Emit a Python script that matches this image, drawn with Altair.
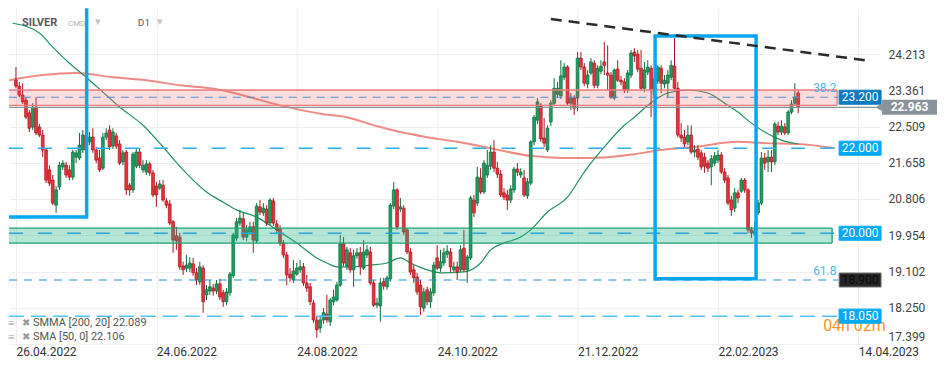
import altair as alt
import pandas as pd

# ---------------- data (bar index 0 = 26.04.2022) ----------------
opens = [23.60, 23.46, 23.25, 23.13, 22.83, 22.50, 22.97, 22.50, 22.31, 21.96,
         21.49, 21.25, 20.66, 21.09, 21.56, 21.60, 21.49, 21.32, 21.79, 21.77,
         21.96, 22.31, 22.15, 22.26, 21.96, 21.77, 21.53, 22.26, 22.43, 22.05,
         22.29, 22.10, 21.68, 21.91, 21.13, 21.02, 21.58, 21.91, 21.49, 21.44,
         21.63, 21.42, 21.11, 21.06, 21.13, 20.76, 20.69, 20.27, 19.94, 19.91,
         19.23, 19.18, 19.18, 19.28, 19.07, 18.86, 19.18, 18.55, 18.64, 18.71,
         18.64, 18.81, 18.60, 18.39, 18.60, 19.00, 19.89, 20.24, 20.34, 19.91,
         20.03, 20.15, 19.82, 20.62, 20.48, 20.57, 20.24, 20.76, 20.22, 20.10,
         19.77, 19.49, 19.04, 18.90, 19.04, 19.14, 19.21, 18.83, 18.74, 18.36,
         17.96, 17.77, 17.96, 18.10, 17.92, 18.39, 18.43, 18.78, 19.75, 19.23,
         19.54, 19.14, 19.47, 19.54, 19.18, 19.49, 19.56, 18.83, 18.31, 18.29,
         18.86, 18.74, 18.93, 20.64, 21.02, 20.57, 20.59, 20.08, 19.56, 19.14,
         18.97, 18.78, 18.24, 18.67, 18.39, 18.60, 19.42, 19.18, 19.30, 19.51,
         19.56, 19.14, 19.21, 19.14, 19.65, 19.14, 19.42, 20.78, 20.71, 21.30,
         20.97, 21.37, 21.58, 21.91, 21.53, 21.39, 20.95, 20.90, 20.78, 21.02,
         21.51, 21.37, 21.30, 20.88, 21.18, 22.15, 22.66, 23.01, 22.24, 21.96,
         22.62, 23.06, 23.27, 23.23, 23.67, 23.91, 23.06, 23.18, 23.18, 24.12,
         23.91, 23.51, 23.77, 24.00, 23.48, 23.81, 24.03, 23.77, 23.72, 23.18,
         23.86, 23.60, 23.56, 23.37, 23.72, 24.26, 24.21, 23.88, 23.41, 23.79,
         23.88, 23.25, 23.58, 23.88, 23.51, 23.53, 23.67, 23.93, 23.41, 22.31,
         22.26, 22.15, 22.31, 21.91, 21.98, 21.89, 21.79, 21.65, 21.56, 21.65,
         21.72, 21.84, 21.44, 21.30, 20.78, 20.59, 20.95, 20.99, 21.25, 21.02,
         20.08, 19.98, 20.48, 20.71, 21.77, 21.68, 21.79, 21.68, 22.52, 22.38,
         22.50, 22.36, 22.85, 23.06, 23.30]
closes = [23.46, 23.25, 23.09, 22.73, 22.47, 22.97, 22.36, 22.31, 21.96, 21.25,
          21.18, 20.71, 21.02, 21.60, 21.65, 21.37, 21.32, 21.91, 21.89, 22.07,
          22.31, 21.96, 22.26, 21.96, 21.72, 21.49, 22.26, 22.36, 22.03, 22.38,
          22.05, 21.65, 21.89, 21.02, 21.02, 21.86, 21.91, 21.60, 21.60, 21.63,
          21.42, 20.90, 20.90, 21.16, 20.78, 20.66, 20.24, 19.84, 19.82, 19.21,
          19.14, 19.25, 19.30, 19.07, 18.90, 19.21, 18.39, 18.67, 18.74, 18.64,
          18.81, 18.50, 18.39, 18.62, 19.04, 19.96, 20.27, 20.36, 19.91, 20.08,
          20.15, 19.84, 20.64, 20.50, 20.59, 20.24, 20.78, 20.24, 20.08, 19.77,
          19.49, 19.02, 18.95, 19.11, 19.18, 19.21, 18.83, 18.71, 18.39, 17.96,
          17.73, 17.96, 18.13, 17.96, 18.43, 18.50, 18.78, 19.75, 19.30, 19.61,
          19.14, 19.47, 19.54, 19.21, 19.56, 19.61, 18.83, 18.31, 18.36, 18.83,
          18.76, 18.95, 20.66, 21.02, 20.15, 20.62, 20.03, 19.56, 19.09, 18.95,
          18.62, 18.27, 18.62, 18.39, 18.62, 19.25, 19.18, 19.33, 19.54, 19.58,
          19.21, 19.21, 19.09, 19.61, 19.14, 19.44, 20.83, 20.48, 21.32, 20.97,
          21.65, 21.60, 21.91, 21.53, 21.39, 20.90, 20.85, 20.78, 21.04, 21.51,
          21.44, 21.44, 20.90, 21.21, 22.15, 22.73, 23.09, 22.22, 22.12, 22.47,
          23.06, 23.41, 23.41, 23.70, 23.91, 23.06, 23.20, 22.94, 24.12, 23.91,
          23.53, 23.72, 24.03, 23.48, 23.88, 23.93, 23.95, 23.72, 23.20, 23.84,
          23.60, 23.56, 23.37, 23.77, 24.24, 24.17, 23.86, 23.41, 23.84, 23.91,
          23.37, 23.63, 23.91, 23.53, 23.60, 23.72, 23.95, 23.41, 22.31, 22.24,
          22.10, 22.31, 21.91, 21.96, 21.79, 21.56, 21.58, 21.53, 21.75, 21.82,
          21.84, 21.44, 21.25, 20.71, 20.55, 20.95, 20.83, 21.25, 21.02, 20.08,
          20.01, 20.05, 20.71, 21.77, 21.65, 21.79, 21.68, 22.57, 22.38, 22.52,
          22.36, 22.85, 23.04, 23.20, 22.97]
highs = [23.91, 23.56, 23.53, 23.20, 22.90, 23.06, 23.20, 22.57, 22.43, 22.00,
         21.60, 21.37, 21.11, 21.68, 21.72, 21.68, 21.60, 21.96, 21.96, 22.36,
         22.43, 22.36, 22.38, 22.47, 22.03, 21.96, 22.36, 22.47, 22.54, 22.47,
         22.36, 22.19, 21.96, 21.96, 21.18, 21.91, 21.98, 22.00, 21.72, 21.72,
         21.68, 21.49, 21.21, 21.25, 21.25, 20.83, 20.78, 20.31, 20.15, 20.01,
         19.33, 19.49, 19.44, 19.42, 19.18, 19.33, 19.25, 18.78, 18.90, 18.81,
         18.90, 18.93, 18.67, 18.71, 19.09, 20.01, 20.36, 20.55, 20.48, 20.19,
         20.27, 20.27, 20.71, 20.78, 20.71, 20.66, 20.83, 20.83, 20.31, 20.19,
         19.84, 19.56, 19.18, 19.37, 19.30, 19.37, 19.30, 19.02, 18.83, 18.43,
         18.06, 18.08, 18.24, 18.55, 18.48, 18.67, 18.86, 19.96, 19.91, 19.68,
         19.65, 19.61, 19.65, 19.68, 19.84, 19.72, 19.68, 18.90, 18.48, 18.95,
         18.95, 19.00, 20.71, 21.21, 21.06, 20.83, 20.66, 20.12, 19.65, 19.25,
         19.07, 18.90, 18.71, 18.74, 18.71, 19.33, 19.72, 19.61, 19.65, 19.72,
         19.65, 19.33, 19.33, 19.72, 20.08, 19.49, 20.88, 20.90, 21.56, 21.53,
         21.72, 21.96, 22.07, 22.19, 21.68, 21.49, 21.06, 21.02, 21.13, 21.56,
         21.65, 21.53, 21.49, 21.30, 22.19, 22.78, 23.18, 23.06, 22.71, 22.54,
         23.13, 23.65, 23.56, 24.07, 24.00, 23.95, 23.30, 23.25, 24.26, 24.26,
         24.00, 23.84, 24.12, 24.07, 23.95, 24.07, 24.50, 24.42, 23.79, 23.88,
         24.07, 23.70, 23.65, 23.84, 24.31, 24.35, 24.31, 24.31, 24.03, 24.07,
         23.95, 23.72, 23.95, 23.95, 23.72, 23.84, 24.07, 24.59, 23.56, 22.59,
         22.43, 22.54, 22.54, 22.07, 22.07, 21.96, 21.89, 21.72, 21.84, 21.91,
         21.96, 21.91, 21.53, 21.37, 20.88, 21.06, 21.02, 21.30, 21.30, 21.06,
         20.15, 20.27, 20.78, 21.91, 21.89, 21.96, 21.96, 22.62, 22.62, 22.66,
         22.59, 22.90, 23.13, 23.53, 23.37]
lows = [23.41, 23.20, 23.04, 22.69, 22.38, 22.43, 22.31, 22.26, 21.79, 21.18,
        21.11, 20.66, 20.48, 21.02, 21.49, 21.30, 21.25, 21.25, 21.65, 21.72,
        21.89, 21.89, 22.07, 21.89, 21.65, 21.44, 21.49, 22.19, 21.96, 21.98,
        21.98, 21.60, 21.60, 20.90, 20.88, 20.95, 21.53, 21.53, 21.42, 21.37,
        21.35, 20.85, 20.62, 21.02, 20.74, 20.59, 20.19, 19.54, 19.61, 19.14,
        19.02, 19.09, 19.09, 19.00, 18.78, 18.78, 18.13, 18.43, 18.55, 18.53,
        18.57, 18.43, 18.27, 18.31, 18.53, 18.95, 19.82, 20.17, 19.84, 19.82,
        19.96, 19.54, 19.77, 20.43, 20.41, 20.17, 20.19, 20.17, 19.98, 19.70,
        19.42, 18.78, 18.86, 18.83, 19.00, 19.07, 18.76, 18.62, 18.31, 17.89,
        17.54, 17.66, 17.87, 17.89, 17.82, 18.31, 18.39, 18.74, 19.23, 19.14,
        19.07, 18.74, 19.40, 19.02, 19.14, 19.42, 18.78, 18.27, 18.24, 17.92,
        18.67, 18.67, 18.86, 20.57, 20.08, 20.50, 19.96, 19.51, 19.02, 18.83,
        18.55, 18.08, 18.15, 18.31, 18.24, 18.53, 19.14, 19.09, 19.23, 19.42,
        19.09, 19.09, 18.90, 19.09, 19.09, 18.83, 19.37, 20.38, 20.64, 20.92,
        20.92, 21.30, 21.49, 21.44, 21.30, 20.85, 20.78, 20.55, 20.71, 20.95,
        21.35, 21.30, 20.85, 20.81, 21.13, 22.07, 22.57, 22.15, 22.03, 21.91,
        22.52, 23.01, 23.18, 23.16, 23.60, 23.01, 22.90, 22.78, 22.87, 23.84,
        23.46, 23.41, 23.72, 23.41, 23.41, 23.74, 23.72, 23.37, 23.16, 23.13,
        23.56, 23.48, 23.30, 23.30, 23.65, 24.03, 23.79, 23.37, 23.32, 23.72,
        22.73, 23.18, 23.51, 23.30, 23.41, 23.18, 23.60, 23.37, 22.26, 22.15,
        22.03, 22.07, 21.86, 21.79, 21.72, 21.49, 21.42, 21.44, 21.13, 21.58,
        21.65, 21.39, 21.18, 20.66, 20.41, 20.50, 20.71, 20.95, 20.95, 20.01,
        19.89, 19.94, 20.43, 20.66, 21.49, 21.44, 21.44, 21.60, 22.31, 22.31,
        22.31, 22.31, 22.80, 23.01, 22.83]

date_ticks = [0, 42, 84, 126, 168, 210, 252]
date_labels = ["26.04.2022", "24.06.2022", "24.08.2022", "24.10.2022",
               "21.12.2022", "22.02.2023", "14.04.2023"]
price_ticks = [17.399, 18.250, 19.102, 19.954, 20.806, 21.658, 22.509, 23.361, 24.213]

sma50_idx = [-1, 7, 11, 16, 21, 26, 31, 38, 44, 50, 57, 62, 66, 72, 78, 84, 90, 93,
             96, 101, 106, 111, 115, 118, 123, 127, 134, 139, 142, 146, 151, 154,
             159, 165, 170, 176, 182, 185, 189, 195, 201, 207, 212, 216, 220, 224,
             229, 234]
sma50_val = [24.94, 24.71, 24.38, 24.00, 23.67, 23.32, 22.97, 22.54, 22.03, 21.49,
             20.97, 20.73, 20.55, 20.38, 20.08, 19.77, 19.42, 19.30, 19.21, 19.21,
             19.25, 19.30, 19.42, 19.30, 19.14, 19.07, 19.09, 19.30, 19.61, 19.77,
             19.91, 20.08, 20.50, 20.85, 21.44, 22.03, 22.54, 22.73, 23.01, 23.30,
             23.37, 23.30, 23.06, 22.85, 22.59, 22.38, 22.19, 22.10]
smma200_idx = [-2, 8, 18, 29, 39, 49, 60, 70, 80, 92, 99, 107, 114, 123, 132, 142,
               154, 159, 167, 177, 185, 193, 203, 216, 224, 234, 245]
smma200_val = [23.60, 23.72, 23.77, 23.67, 23.60, 23.48, 23.39, 23.20, 22.99, 22.80,
               22.73, 22.54, 22.40, 22.26, 22.15, 22.00, 21.82, 21.79, 21.77, 21.79,
               21.86, 21.96, 22.03, 22.15, 22.12, 22.10, 22.00]

trend_idx = [160, 256]
trend_val = [25.04, 24.05]

resistance_zone = [23.01, 23.37]
support_zone = [19.77, 20.12]
level_prices = [23.2, 22.0, 20.0, 18.9, 18.05]
level_labels = ["23.200", "22.000", "20.000", "18.900", "18.050"]
current_price = 22.963
fib_labels = ["38.2", "61.8"]
fib_prices = [23.2, 18.9]
box_left_idx = [-5, 21.15]
box_left_val = [20.38, 26.5]
box_right_idx = [191.2, 221.4]
box_right_val = [18.93, 24.64]

# ---------------- styling ----------------
FONT = "Roboto"
GREEN_F, GREEN_S = "#1f9d63", "#0c6b3c"
RED_F, RED_S = "#e8333c", "#a8141e"
BLUE = "#0aa5ef"

xs = alt.Scale(domain=[-0.59, 257.0], nice=False, zero=False)
ys = alt.Scale(domain=[17.399, 25.294], nice=False, zero=False)

label_expr = ""
for t, l in zip(date_ticks, date_labels):
    label_expr += f"datum.value == {t} ? '{l}' : "
label_expr += "''"

xaxis = alt.Axis(title=None, values=date_ticks, labelExpr=label_expr, labelAlign="left",
                 grid=True, gridColor="#eeeeee", domain=False, ticks=False,
                 labelPadding=3, labelFontSize=12, labelColor="#333333", labelFont=FONT,
                 labelFlush=False, labelOverlap=False)
yaxis = alt.Axis(title=None, orient="right", values=price_ticks, format=".3f",
                 grid=True, gridColor="#eeeeee", domain=False, ticks=False,
                 labelPadding=8, labelFontSize=12, labelColor="#444444", labelFont=FONT,
                 labelFlush=True, labelOverlap=False)


def X(f):
    return alt.X(f, type="quantitative", scale=xs, axis=xaxis)


def Y(f):
    return alt.Y(f, type="quantitative", scale=ys, axis=yaxis)


df = pd.DataFrame({"i": list(range(len(opens))), "o": opens, "h": highs, "l": lows, "c": closes})
df["dir"] = ["up" if c >= o else "down" for o, c in zip(opens, closes)]

fill_scale = alt.Scale(domain=["up", "down"], range=[GREEN_F, RED_F])
stroke_scale = alt.Scale(domain=["up", "down"], range=[GREEN_S, RED_S])

base = alt.Chart(df)
wicks = base.mark_rule(strokeWidth=1).encode(
    x=X("i"), y=Y("l"), y2="h",
    color=alt.Color("dir:N", scale=stroke_scale, legend=None))
bodies = base.mark_bar(size=2.8, strokeWidth=0.7).encode(
    x=X("i"), y=Y("o"), y2="c",
    fill=alt.Fill("dir:N", scale=fill_scale, legend=None),
    stroke=alt.Stroke("dir:N", scale=stroke_scale, legend=None))

sma_df = pd.DataFrame({"i": sma50_idx, "v": sma50_val})
smma_df = pd.DataFrame({"i": smma200_idx, "v": smma200_val})
sma_line = alt.Chart(sma_df).mark_line(color="#23915f", strokeWidth=1.2,
                                       interpolate="monotone", clip=True).encode(x=X("i"), y=Y("v"))
smma_line = alt.Chart(smma_df).mark_line(color="#f08a85", strokeWidth=2,
                                         interpolate="monotone", clip=True).encode(x=X("i"), y=Y("v"))


def band(lo, hi, fill, edge, right_px):
    d = pd.DataFrame({"lo": [lo], "hi": [hi]})
    rect = alt.Chart(d).mark_rect(fill=fill).encode(
        x=alt.value(0), x2=alt.value(right_px), y=Y("lo"), y2="hi")
    top = alt.Chart(d).mark_rule(color=edge, strokeWidth=1.3).encode(
        x=alt.value(0), x2=alt.value(right_px), y=Y("hi"))
    bot = alt.Chart(d).mark_rule(color=edge, strokeWidth=1.3).encode(
        x=alt.value(0), x2=alt.value(right_px), y=Y("lo"))
    side = alt.Chart(d).mark_rule(color=edge, strokeWidth=1.3).encode(
        x=alt.value(right_px), y=Y("lo"), y2="hi")
    return [rect, top, bot, side]


pink = band(resistance_zone[0], resistance_zone[1], "rgba(240,80,80,0.2)", "#f07a7a", 829)
mint = band(support_zone[0], support_zone[1], "rgba(30,180,130,0.33)", "#21a06f", 824)


def level_line(price, color, dash, width, right_px=830):
    d = pd.DataFrame({"p": [price]})
    return alt.Chart(d).mark_rule(color=color, strokeDash=dash, strokeWidth=width).encode(
        x=alt.value(0), x2=alt.value(right_px), y=Y("p"))


levels = [
    level_line(level_prices[0], "#4a90d9", [8, 6], 1.1),
    level_line(level_prices[1], "#29b0f0", [14, 15], 1.5),
    level_line(level_prices[2], "#2aa3d6", [14, 15], 1.5),
    level_line(level_prices[3], "#1f8fd1", [8, 7], 1.1),
    level_line(level_prices[4], "#4fc3f7", [15, 7], 1.5),
    level_line(current_price, "#8a9399", [1, 0], 1.2, right_px=868),
]


def outline(idx, val):
    d = pd.DataFrame({"x0": [idx[0]], "x1": [idx[1]], "y0": [val[0]], "y1": [val[1]]})
    return alt.Chart(d).mark_rect(fillOpacity=0, stroke=BLUE, strokeWidth=3.5, clip=True).encode(
        x=X("x0"), x2="x1", y=Y("y0"), y2="y1")


rects = [outline(box_left_idx, box_left_val), outline(box_right_idx, box_right_val)]

trend = alt.Chart(pd.DataFrame({"i": trend_idx, "v": trend_val})).mark_line(
    color="#2b2b2b", strokeWidth=2.5, strokeDash=[11, 7]).encode(x=X("i"), y=Y("v"))

fib = alt.Chart(pd.DataFrame({"p": fib_prices, "t": fib_labels})).mark_text(
    font=FONT, fontSize=12, color="#4fb8ee", align="left", baseline="bottom", dy=-2).encode(
    x=alt.value(805), y=Y("p"), text="t:N")

countdown = alt.Chart(pd.DataFrame({"p": [level_prices[4]]})).mark_text(
    font=FONT, fontSize=16, color="#f7941d", align="left", baseline="middle", dy=10,
    text="04h 02m").encode(x=alt.value(815), y=Y("p"))

box_fill = ["#0b7ac0", "#03a9f4", "#03a9f4", "#262626", "#03a9f4"]
box_edge = ["#0b7ac0", "#03a9f4", "#03a9f4", "#777777", "#03a9f4"]
box_text = ["#ffffff", "#ffffff", "#ffffff", "#0a0a0a", "#ffffff"]
lv = pd.DataFrame({"p": level_prices, "label": level_labels, "fill": box_fill,
                   "edge": box_edge, "tc": box_text})
lv["lo"] = lv["p"] - 0.165
lv["hi"] = lv["p"] + 0.165
boxes = alt.Chart(lv).mark_rect(strokeWidth=1).encode(
    x=alt.value(831), x2=alt.value(873), y=Y("lo"), y2="hi",
    fill=alt.Fill("fill:N", scale=None), stroke=alt.Stroke("edge:N", scale=None))
box_labels = alt.Chart(lv).mark_text(font=FONT, fontSize=12, align="center", baseline="middle").encode(
    x=alt.value(852), y=Y("p"), text="label:N", color=alt.Color("tc:N", scale=None))

cp = pd.DataFrame({"p": [current_price], "lo": [current_price - 0.175],
                   "hi": [current_price + 0.175], "t": [f"{current_price:.3f}"]})
cp_box = alt.Chart(cp).mark_rect(fill="#8a9399").encode(
    x=alt.value(874), x2=alt.value(929), y=Y("lo"), y2="hi")
cp_arrow = alt.Chart(cp).mark_point(shape="triangle-left", filled=True, size=70,
                                    color="#8a9399", opacity=1).encode(x=alt.value(871), y=Y("p"))
cp_text = alt.Chart(cp).mark_text(font=FONT, fontSize=12, fontWeight="bold", color="#ffffff",
                                  align="center", baseline="middle").encode(
    x=alt.value(901.5), y=Y("p"), text="t:N")


def txt(s, x, y, size, color, weight="normal"):
    return alt.Chart(alt.Data(values=[{}])).mark_text(
        text=s, font=FONT, fontSize=size, color=color, fontWeight=weight,
        align="left", baseline="middle").encode(x=alt.value(x), y=alt.value(y))


legend = [
    txt("SILVER", 13, 15, 11, "#5a5a5a", "bold"),
    txt("CMD", 59, 16, 8, "#b0b0b0"),
    txt("▾", 86, 14, 11, "#c4c4c4"),
    txt("D1", 129, 15, 10, "#5a5a5a"),
    txt("▾", 148, 14, 11, "#c4c4c4"),
    txt("≡", -1, 315, 12, "#9a9a9a"),
    txt("✖", 13, 315, 10, "#9a9a9a"),
    txt("SMMA [200,  20] 22.089", 24, 315, 11, "#555555"),
    txt("≡", -1, 329, 12, "#9a9a9a"),
    txt("✖", 13, 329, 10, "#9a9a9a"),
    txt("SMA [50,  0] 22.106", 24, 329, 11, "#555555"),
]

layers = ([smma_line, sma_line, wicks, bodies] + pink + mint + levels + rects +
          [trend, fib, countdown, boxes, box_labels, cp_box, cp_arrow, cp_text] + legend)

chart = alt.layer(*layers).properties(
    width=872, height=336,
    padding={"left": 0, "top": 0, "right": 4, "bottom": 4},
    background="#ffffff",
).configure_view(stroke=None)

chart.save("out.html", embed_options={"renderer": "svg", "actions": False})
